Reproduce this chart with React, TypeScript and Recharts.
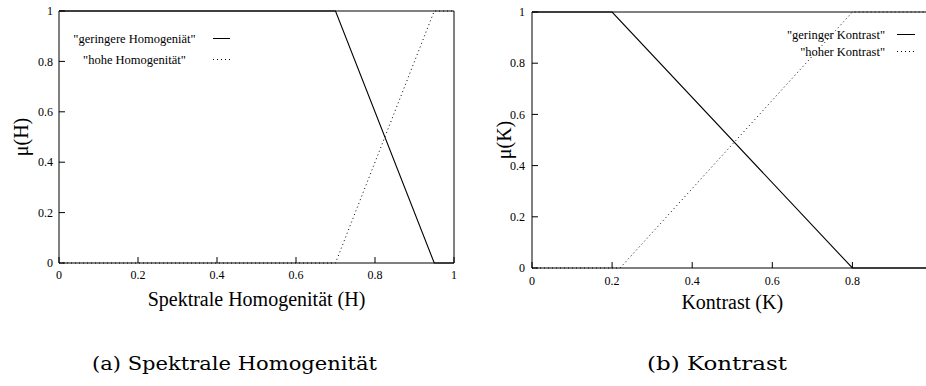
import React from 'react';
import { LineChart, Line, XAxis, YAxis, Legend, Label } from 'recharts';

// membership functions
const homX = [0, 0.7, 0.95, 1];
const homLow = [1, 1, 0, 0];
const homHigh = [0, 0, 1, 1];

const kontLowX = [0, 0.2, 0.8, 1];
const kontLow = [1, 1, 0, 0];
const kontHighX = [0, 0.22, 0.8, 1];
const kontHigh = [0, 0, 1, 1];

const axisTicks = [0, 0.2, 0.4, 0.6, 0.8, 1];
// the "1" of the Kontrast axis falls outside the picture
const kontXTicks = [0, 0.2, 0.4, 0.6, 0.8];

const homNames = ['"geringere Homogeniät"', '"hohe Homogenität"'];
const kontNames = ['"geringer Kontrast"', '"hoher Kontrast"'];

const SERIF = '"Liberation Serif", "Times New Roman", serif';
const CAPTION_FONT = '"DejaVu Serif", serif';
const TICK_LEN = 6;
const DOTTED = '1 3';

const toPoints = (xs: number[], ys: number[]) => xs.map((x, i) => ({ x, y: ys[i] }));

// gnuplot style: tick marks point into the plot, labels outside
const BottomTick = ({ x, y, payload, gap }: any) => (
  <g>
    <line x1={x} x2={x} y1={y - gap} y2={y - gap - TICK_LEN} stroke="#000" />
    <text x={x} y={y} dy="0.71em" textAnchor="middle" fontFamily={SERIF} fontSize={12} fill="#000">
      {payload.value}
    </text>
  </g>
);

const LeftTick = ({ x, y, payload, gap }: any) => (
  <g>
    <line x1={x + gap} x2={x + gap + TICK_LEN} y1={y} y2={y} stroke="#000" />
    <text x={x} y={y} dy="0.355em" textAnchor="end" fontFamily={SERIF} fontSize={12} fill="#000">
      {payload.value}
    </text>
  </g>
);

const TopTick = ({ x, y }: any) => <line x1={x} x2={x} y1={y} y2={y + TICK_LEN} stroke="#000" />;
const RightTick = ({ x, y }: any) => <line x1={x} x2={x - TICK_LEN} y1={y} y2={y} stroke="#000" />;

const xTitle = (text: string, below: number) => (props: any) => {
  const vb = props.viewBox;
  return (
    <text x={vb.x + vb.width / 2} y={vb.y + below} textAnchor="middle" fontFamily={SERIF} fontSize={20} fill="#000">
      {text}
    </text>
  );
};

const yTitle = (text: string, cx: number) => (props: any) => {
  const vb = props.viewBox;
  const cy = vb.y + vb.height / 2;
  return (
    <text
      x={cx}
      y={cy}
      dy="0.35em"
      transform={`rotate(-90 ${cx} ${cy})`}
      textAnchor="middle"
      fontFamily={SERIF}
      fontSize={20}
      fill="#000"
    >
      {text}
    </text>
  );
};

type LegendLayout = {
  names: string[];
  anchor: 'middle' | 'end';
  textX: number;
  lineX: [number, number];
  rowsY: number[];
};

const legendContent = ({ names, anchor, textX, lineX, rowsY }: LegendLayout) => () => (
  <svg width={200} height={50} style={{ display: 'block', overflow: 'visible' }}>
    {names.map((n, i) => (
      <g key={n}>
        <text x={textX} y={rowsY[i]} dy="0.355em" textAnchor={anchor} fontFamily={SERIF} fontSize={12.5} fill="#000">
          {n}
        </text>
        <line
          x1={lineX[0]}
          x2={lineX[1]}
          y1={rowsY[i] - 0.5}
          y2={rowsY[i] - 0.5}
          stroke="#000"
          strokeDasharray={i === 1 ? DOTTED : undefined}
        />
      </g>
    ))}
  </svg>
);

const Panel = (p: {
  low: { x: number; y: number }[];
  high: { x: number; y: number }[];
  names: string[];
  xTicks: number[];
  xLabel: string;
  yLabel: string;
  yLabelX: number;
  xLabelBelow: number;
  leftW: number;
  marginTop: number;
  marginRight: number;
  bottomH: number;
  bottomGap: number;
  leftGap: number;
  legendPos: { left: number; top: number };
  legend: LegendLayout;
}) => (
  <LineChart width={470} height={320} margin={{ top: p.marginTop, right: p.marginRight, bottom: 0, left: 0 }}>
    <XAxis
      dataKey="x"
      type="number"
      domain={[0, 1]}
      ticks={p.xTicks}
      interval={0}
      height={p.bottomH}
      tickSize={0}
      tickMargin={p.bottomGap}
      tickLine={false}
      axisLine={{ stroke: '#000' }}
      tick={<BottomTick gap={p.bottomGap} />}
    >
      <Label content={xTitle(p.xLabel, p.xLabelBelow)} />
    </XAxis>
    <XAxis
      xAxisId="top"
      orientation="top"
      type="number"
      domain={[0, 1]}
      ticks={p.xTicks}
      interval={0}
      height={1}
      tickSize={0}
      tickMargin={0}
      tickLine={false}
      axisLine={{ stroke: '#000' }}
      tick={<TopTick />}
    />
    <YAxis
      type="number"
      domain={[0, 1]}
      ticks={axisTicks}
      interval={0}
      width={p.leftW}
      tickSize={0}
      tickMargin={p.leftGap}
      tickLine={false}
      axisLine={{ stroke: '#000' }}
      tick={<LeftTick gap={p.leftGap} />}
    >
      <Label content={yTitle(p.yLabel, p.yLabelX)} />
    </YAxis>
    <YAxis
      yAxisId="right"
      orientation="right"
      type="number"
      domain={[0, 1]}
      ticks={axisTicks}
      interval={0}
      width={1}
      tickSize={0}
      tickMargin={0}
      tickLine={false}
      axisLine={{ stroke: '#000' }}
      tick={<RightTick />}
    />
    <Legend
      layout="vertical"
      align="center"
      verticalAlign="middle"
      wrapperStyle={{ left: p.legendPos.left, top: p.legendPos.top, width: 200, height: 50 }}
      content={legendContent(p.legend)}
    />
    <Line
      data={p.low}
      dataKey="y"
      name={p.names[0]}
      type="linear"
      stroke="#000"
      strokeWidth={1.1}
      dot={false}
      activeDot={false}
      isAnimationActive={false}
    />
    <Line
      data={p.high}
      dataKey="y"
      name={p.names[1]}
      type="linear"
      stroke="#000"
      strokeWidth={1}
      strokeDasharray={DOTTED}
      dot={false}
      activeDot={false}
      isAnimationActive={false}
    />
  </LineChart>
);

export default function App() {
  return (
    <div
      style={{
        position: 'absolute',
        left: 0,
        top: 0,
        width: 926,
        height: 386,
        overflow: 'hidden',
        background: '#fff',
      }}
    >
      <div style={{ position: 'absolute', left: 0, top: 0 }}>
        <Panel
          low={toPoints(homX, homLow)}
          high={toPoints(homX, homHigh)}
          names={homNames}
          xTicks={axisTicks}
          xLabel="Spektrale Homogenität (H)"
          yLabel="μ(H)"
          yLabelX={21}
          xLabelBelow={43}
          leftW={59}
          marginTop={10}
          marginRight={15}
          bottomH={57}
          bottomGap={7}
          leftGap={6}
          legendPos={{ left: 60, top: 25 }}
          legend={{ names: homNames, anchor: 'middle', textX: 74.5, lineX: [153, 170], rowsY: [14, 35] }}
        />
      </div>
      <div style={{ position: 'absolute', left: 470, top: 0 }}>
        <Panel
          low={toPoints(kontLowX, kontLow)}
          high={toPoints(kontHighX, kontHigh)}
          names={kontNames}
          xTicks={kontXTicks}
          xLabel="Kontrast (K)"
          yLabel="μ(K)"
          yLabelX={34}
          xLabelBelow={41}
          leftW={62}
          marginTop={11}
          marginRight={6.5}
          bottomH={52}
          bottomGap={8}
          leftGap={7}
          legendPos={{ left: 300, top: 25 }}
          legend={{ names: kontNames, anchor: 'end', textX: 115, lineX: [127, 145], rowsY: [10, 27] }}
        />
      </div>
      <svg width={926} height={386} style={{ position: 'absolute', left: 0, top: 0, pointerEvents: 'none' }}>
        <text x={234.5} y={370} textAnchor="middle" fontFamily={CAPTION_FONT} fontSize={19} textLength={285} lengthAdjust="spacingAndGlyphs" fill="#000">
          (a) Spektrale Homogenität
        </text>
        <text x={717} y={370} textAnchor="middle" fontFamily={CAPTION_FONT} fontSize={19} textLength={140} lengthAdjust="spacingAndGlyphs" fill="#000">
          (b) Kontrast
        </text>
      </svg>
    </div>
  );
}
